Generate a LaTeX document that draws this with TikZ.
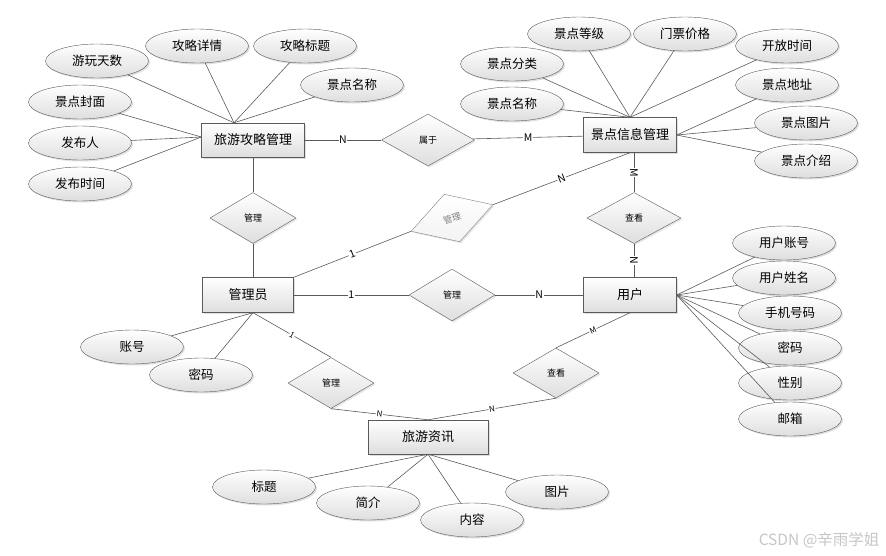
\documentclass[tikz,border=0pt]{standalone}
\usepackage{fontspec}
\setmainfont{Noto Sans CJK SC}
\usepackage{tikz}
\usetikzlibrary{shapes,shapes.geometric,positioning,shadows}
\definecolor{edgegray}{RGB}{90, 90, 90}
\definecolor{fillgray}{RGB}{222, 222, 222}

\begin{document}
\begin{tikzpicture}[
    x=1pt, y=-1pt,
    every node/.style={align=center},
    entity/.style={rectangle, minimum width=93pt, minimum height=35pt, inner sep=0pt, draw=edgegray, top color=white, bottom color=fillgray, drop shadow={shadow xshift=1.5pt, shadow yshift=-1.5pt, opacity=0.25}, font=\fontsize{13}{15}\selectfont},
    attr/.style={ellipse, minimum width=103pt, minimum height=34pt, inner sep=0pt, draw=edgegray, top color=white, bottom color=fillgray, drop shadow={shadow xshift=1.5pt, shadow yshift=-1.5pt, opacity=0.25}, font=\fontsize{12.5}{14}\selectfont},
    rel/.style={diamond, minimum width=86pt, minimum height=51pt, inner sep=0pt, draw=edgegray, top color=white, bottom color=fillgray, drop shadow={shadow xshift=1.5pt, shadow yshift=-1.5pt, opacity=0.2}, font=\fontsize{9}{10}\selectfont},
    link/.style={draw=edgegray, line width=0.6pt},
    card/.style={fill=white, inner sep=0.6pt, font=\fontsize{10.5}{11}\selectfont},
    smallcard/.style={card, font=\fontsize{8}{8}\selectfont}
]
\useasboundingbox (0,0) rectangle (886,555);

% Entities
\node[entity, minimum width=103pt, minimum height=34pt] (guide) at (253,140) {旅游攻略管理};
\node[entity] (spot) at (630,135) {景点信息管理};
\node[entity, minimum width=91pt] (admin) at (248,295) {管理员};
\node[entity] (user) at (630,295) {用户};
\node[entity, minimum width=120pt, minimum height=34pt] (news) at (428,437) {旅游资讯};

% Relationships
\node[rel, minimum width=93pt, minimum height=52pt] (belong) at (428,140) {属于};
\node[rel] (mgrGuide) at (253,218) {管理};
\node[rel, minimum width=94pt] (viewSpot) at (634,218) {查看};
\node[rel, rotate=18, draw=gray, text=gray, bottom color=gray!10, minimum height=50pt] (mgrSpot) at (452,218) {管理};
\node[rel, minimum height=52pt] (mgrUser) at (452,295) {管理};
\node[rel] (mgrNews) at (331,383) {管理};
\node[rel, minimum height=50pt] (viewNews) at (556,373) {查看};

% Attributes of guide
\node[attr] (gDays) at (97,61) {游玩天数};
\node[attr] (gDetail) at (197,46) {攻略详情};
\node[attr] (gTitle) at (305,46) {攻略标题};
\node[attr] (gSpot) at (352,85) {景点名称};
\node[attr] (gCover) at (80,102) {景点封面};
\node[attr] (gAuthor) at (80,143) {发布人};
\node[attr] (gTime) at (80,184) {发布时间};

% Attributes of spot
\node[attr] (sClass) at (512,64) {景点分类};
\node[attr] (sLevel) at (579,34) {景点等级};
\node[attr] (sPrice) at (685,34) {门票价格};
\node[attr] (sOpen) at (787,46) {开放时间};
\node[attr] (sName) at (512,104) {景点名称};
\node[attr] (sAddr) at (787,85) {景点地址};
\node[attr] (sPic) at (806,123) {景点图片};
\node[attr] (sIntro) at (806,161) {景点介绍};

% Attributes of user
\node[attr] (uAcc) at (784,243) {用户账号};
\node[attr] (uName) at (784,278) {用户姓名};
\node[attr] (uPhone) at (790,313) {手机号码};
\node[attr] (uPwd) at (790,348) {密码};
\node[attr] (uSex) at (790,383) {性别};
\node[attr] (uMail) at (790,419) {邮箱};

% Attributes of admin
\node[attr] (aAcc) at (132,347) {账号};
\node[attr] (aPwd) at (201,375) {密码};

% Attributes of news
\node[attr] (nTitle) at (264,487) {标题};
\node[attr] (nBrief) at (368,503) {简介};
\node[attr] (nText) at (472,520) {内容};
\node[attr] (nPic) at (557,492) {图片};

% Attribute links
\foreach \a in {gDays,gDetail,gTitle,gSpot}
    \draw[link] (\a) -- ([xshift=-19pt]guide.north);
\foreach \a in {gCover,gAuthor,gTime}
    \draw[link] (\a) -- ([yshift=3pt]guide.west);
\foreach \a in {sClass,sLevel,sPrice,sOpen,sName}
    \draw[link] (\a) -- (spot.north);
\foreach \a in {sAddr,sPic,sIntro}
    \draw[link] (\a) -- (spot.east);
\foreach \a in {uAcc,uName,uPhone,uPwd,uSex,uMail}
    \draw[link] (\a) -- (user.east);
\foreach \a in {aAcc,aPwd}
    \draw[link] (\a) -- (mgrGuide |- admin.south);
\foreach \a in {nTitle,nBrief,nText,nPic}
    \draw[link] (\a) -- (news.south);

% Relationship links
\draw[link] (guide) -- (belong) node[card, midway] {N};
\draw[link] (belong) -- (spot) node[card, midway] {M};
\draw[link] (guide) -- (mgrGuide.north);
\draw[link] (mgrGuide.south) -- (mgrGuide |- admin.north);
\draw[link] (spot.south -| viewSpot) -- (viewSpot.north) node[card, midway, sloped] {M};
\draw[link] (viewSpot.south) -- (viewSpot |- user.north) node[card, midway, sloped] {N};
\draw[link] (admin.north east) -- (mgrSpot.west) node[card, midway, sloped] {1};
\draw[link] (mgrSpot.east) -- (spot.south) node[card, midway, sloped] {N};
\draw[link] (admin) -- (mgrUser) node[card, midway] {1};
\draw[link] (mgrUser) -- (user) node[card, midway] {N};
\draw[link] (mgrGuide |- admin.south) -- (mgrNews.north) node[smallcard, midway, sloped] {1};
\draw[link] (mgrNews.south) -- (news.north) node[smallcard, midway, sloped] {N};
\draw[link] (user.south) -- (viewNews.north) node[smallcard, midway, sloped] {M};
\draw[link] (viewNews.south) -- (news.north) node[smallcard, midway, sloped] {N};

% Watermark
\node[anchor=east, text=gray!45, font=\fontsize{15.5}{16}\selectfont] (mark) at (883,540) {CSDN @辛雨学姐};

\end{tikzpicture}
\end{document}
